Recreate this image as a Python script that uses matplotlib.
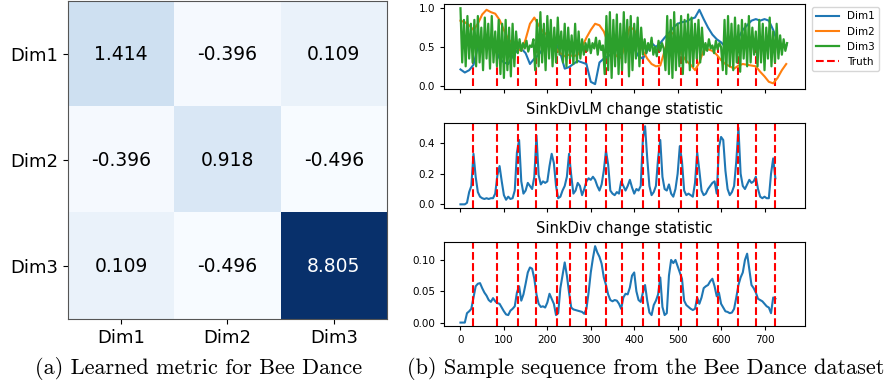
"""Learned metric heatmap and Bee Dance sample sequence with change statistics."""

import numpy as np
import matplotlib
matplotlib.use('Agg')
import matplotlib.pyplot as plt

# --- data -------------------------------------------------------------------
dims = ['Dim1', 'Dim2', 'Dim3']
metric = [[1.414, -0.396, 0.109],
          [-0.396, 0.918, -0.496],
          [0.109, -0.496, 8.805]]

truth = [29, 84, 133, 175, 223, 252, 289, 335, 372, 421, 457, 507, 545, 593, 639, 681, 725]

# sequence sampled every 10 steps (Dim1, Dim2) and every 4 steps (Dim3)
dim1 = [0.21, 0.17, 0.20, 0.27, 0.50, 0.55, 0.57, 0.56, 0.50, 0.35,
        0.30, 0.28, 0.38, 0.45, 0.48, 0.42, 0.28, 0.35, 0.40, 0.48,
        0.55, 0.58, 0.55, 0.42, 0.22, 0.24, 0.28, 0.32, 0.30, 0.28,
        0.05, 0.02, 0.30, 0.35, 0.38, 0.42, 0.47, 0.52, 0.55, 0.53,
        0.48, 0.38, 0.35, 0.45, 0.55, 0.50, 0.55, 0.62, 0.68, 0.75,
        0.80, 0.82, 0.83, 0.86, 0.88, 0.98, 0.86, 0.75, 0.66, 0.60,
        0.56, 0.50, 0.47, 0.55, 0.62, 0.72, 0.78, 0.84, 0.86, 0.84,
        0.86, 0.84, 0.72, 0.56, 0.50, 0.52]
dim2 = [0.84, 0.82, 0.78, 0.72, 0.80, 0.92, 0.98, 0.95, 0.93, 0.85,
        0.72, 0.60, 0.55, 0.48, 0.45, 0.60, 0.80, 0.88, 0.78, 0.70,
        0.65, 0.55, 0.48, 0.42, 0.38, 0.40, 0.38, 0.40, 0.50, 0.62,
        0.72, 0.80, 0.78, 0.70, 0.55, 0.45, 0.38, 0.36, 0.55, 0.76,
        0.72, 0.60, 0.45, 0.35, 0.28, 0.25, 0.26, 0.45, 0.66, 0.68,
        0.55, 0.40, 0.32, 0.27, 0.20, 0.30, 0.46, 0.47, 0.45, 0.40,
        0.33, 0.28, 0.25, 0.22, 0.26, 0.28, 0.27, 0.26, 0.25, 0.18,
        0.12, 0.05, 0.03, 0.10, 0.20, 0.28]
dim3 = [1.0, 0.3, 0.85, 0.25, 0.9, 0.35, 0.8, 0.3,
        0.85, 0.25, 0.9, 0.3, 0.75, 0.2, 0.88, 0.35, 0.8, 0.22, 0.9, 0.3, 0.7, 0.25, 0.85,
        0.15, 0.8, 0.1, 0.85, 0.2, 0.75, 0.12, 0.8, 0.25, 0.7,
        0.42, 0.6, 0.45, 0.55, 0.48, 0.58, 0.44, 0.52, 0.5, 0.6,
        0.2, 0.85, 0.25, 0.95, 0.3, 0.8, 0.2, 0.9, 0.35, 0.85, 0.25, 0.75, 0.3, 0.88, 0.4,
        0.7, 0.3, 0.8, 0.25, 0.75, 0.35, 0.65, 0.28, 0.8, 0.3, 0.7, 0.35, 0.6, 0.4, 0.55,
        0.45, 0.6, 0.42, 0.55, 0.48, 0.62, 0.4, 0.58, 0.46, 0.52,
        0.15, 0.9, 0.2, 0.95, 0.1, 0.85, 0.25, 0.92, 0.15, 0.8, 0.2, 0.95, 0.3, 0.85,
        0.12, 0.9, 0.2, 0.8, 0.35, 0.88, 0.25, 0.75, 0.4,
        0.6, 0.42, 0.55, 0.45, 0.62, 0.4, 0.5, 0.38, 0.58, 0.45, 0.55, 0.48,
        0.2, 0.9, 0.15, 0.85, 0.1, 0.95, 0.2, 0.8, 0.25, 0.9, 0.15, 0.85, 0.3, 0.92,
        0.2, 0.88, 0.25, 0.8, 0.35, 0.85, 0.3, 0.75, 0.4,
        0.55, 0.45, 0.6, 0.48, 0.52, 0.42, 0.58, 0.47, 0.55, 0.5,
        0.2, 0.85, 0.15, 0.9, 0.25, 0.8, 0.2, 0.88, 0.3, 0.78,
        0.18, 0.85, 0.35, 0.8, 0.25, 0.9, 0.3, 0.75, 0.4, 0.7,
        0.25, 0.85, 0.3, 0.8, 0.2, 0.75, 0.35, 0.88, 0.25,
        0.7, 0.3, 0.8, 0.35, 0.65, 0.4, 0.6, 0.45, 0.55]

# change statistics sampled every 5 steps
sinkdiv_lm = [0.0, 0.0, 0.0, 0.01, 0.08, 0.12, 0.33, 0.18, 0.08, 0.05,
              0.04, 0.035, 0.04, 0.035, 0.04, 0.04, 0.07, 0.19, 0.25, 0.15,
              0.06, 0.03, 0.05, 0.035, 0.04, 0.09, 0.34, 0.42, 0.15, 0.07,
              0.09, 0.14, 0.12, 0.10, 0.18, 0.45, 0.19, 0.13, 0.15, 0.14,
              0.15, 0.25, 0.33, 0.27, 0.12, 0.04, 0.05, 0.09, 0.12, 0.18,
              0.33, 0.19, 0.07, 0.09, 0.14, 0.12, 0.06, 0.10, 0.15, 0.17,
              0.16, 0.18, 0.16, 0.12, 0.09, 0.13, 0.22, 0.35, 0.26, 0.09,
              0.07, 0.06, 0.08, 0.07, 0.15, 0.12, 0.09, 0.12, 0.16, 0.11,
              0.07, 0.10, 0.09, 0.12, 0.43, 0.51, 0.30, 0.12, 0.06, 0.08,
              0.12, 0.30, 0.42, 0.18, 0.10, 0.09, 0.13, 0.07, 0.05, 0.10,
              0.20, 0.38, 0.28, 0.09, 0.06, 0.07, 0.06, 0.05, 0.14, 0.34,
              0.22, 0.09, 0.06, 0.07, 0.10, 0.12, 0.14, 0.15, 0.07, 0.37,
              0.44, 0.42, 0.22, 0.10, 0.06, 0.08, 0.12, 0.28, 0.50, 0.20,
              0.12, 0.10, 0.13, 0.16, 0.14, 0.15, 0.18, 0.10, 0.05, 0.04,
              0.05, 0.04, 0.04, 0.20, 0.30, 0.17]
sinkdiv = [0.0, 0.0, 0.0, 0.015, 0.018, 0.022, 0.04, 0.058, 0.062, 0.063,
           0.055, 0.048, 0.043, 0.036, 0.033, 0.039, 0.034, 0.031, 0.030, 0.024,
           0.018, 0.013, 0.012, 0.019, 0.022, 0.026, 0.048, 0.058, 0.035, 0.045,
           0.062, 0.080, 0.088, 0.086, 0.070, 0.045, 0.030, 0.025, 0.026, 0.024,
           0.032, 0.046, 0.038, 0.030, 0.012, 0.015, 0.055, 0.075, 0.096, 0.075,
           0.048, 0.024, 0.021, 0.020, 0.019, 0.018, 0.017, 0.014, 0.022, 0.048,
           0.080, 0.103, 0.122, 0.112, 0.105, 0.094, 0.072, 0.060, 0.045, 0.036,
           0.034, 0.036, 0.035, 0.030, 0.022, 0.040, 0.046, 0.045, 0.056, 0.075,
           0.080, 0.050, 0.036, 0.033, 0.048, 0.060, 0.035, 0.016, 0.012, 0.028,
           0.035, 0.045, 0.072, 0.025, 0.012, 0.015, 0.075, 0.100, 0.095, 0.100,
           0.090, 0.080, 0.070, 0.035, 0.028, 0.025, 0.022, 0.020, 0.022, 0.040,
           0.030, 0.040, 0.055, 0.058, 0.060, 0.066, 0.070, 0.058, 0.042, 0.048,
           0.030, 0.024, 0.018, 0.017, 0.015, 0.016, 0.022, 0.040, 0.060, 0.072,
           0.080, 0.100, 0.110, 0.085, 0.060, 0.055, 0.048, 0.038, 0.036, 0.034,
           0.030, 0.026, 0.024, 0.015, 0.040, 0.038]

# --- figure -----------------------------------------------------------------
fig = plt.figure(figsize=(8.89, 3.85), dpi=100)

# (a) heatmap
ax = fig.add_axes([0.0765, 0.1714, 0.3588, 0.826])
ax.imshow(metric, cmap='Blues', aspect='auto')
for i in range(3):
    for j in range(3):
        val = metric[i][j]
        ax.text(j, i, '%.3f' % val, ha='center', va='center', fontsize=13.5,
                color='white' if val > 4 else 'black')
ax.set_xticks(range(3))
ax.set_yticks(range(3))
ax.set_xticklabels(dims, fontsize=13)
ax.set_yticklabels(dims, fontsize=13)
for s in ax.spines.values():
    s.set_color('#555555')

# (b) sequence + statistics
left, width = 0.4994, 0.406
ax1 = fig.add_axes([left, 0.7688, width, 0.2208])
ax2 = fig.add_axes([left, 0.4605, width, 0.2208], sharex=ax1)
ax3 = fig.add_axes([left, 0.154, width, 0.218], sharex=ax1)

t10 = np.arange(len(dim1)) * 10
t4 = np.arange(len(dim3)) * 4
t5 = np.arange(len(sinkdiv_lm)) * 5

ax1.plot(t10, dim1, lw=1.5, label='Dim1')
ax1.plot(t10, dim2, lw=1.5, label='Dim2')
ax1.plot(t4, dim3, lw=1.6, label='Dim3')
ax1.vlines(truth, 0, 0.5, colors='r', linestyles='--', lw=1.5, zorder=1.5, label='Truth')
ax1.set_ylim(-0.043, 1.055)
ax1.set_yticks([0.0, 0.5, 1.0])
ax1.legend(loc='upper left', bbox_to_anchor=(1.01, 1.0), fontsize=7.5,
           handlelength=2.2, borderaxespad=0.3)

ax2.plot(t5, sinkdiv_lm, lw=1.5)
for cp in truth:
    ax2.axvline(cp, color='r', ls='--', lw=1.5)
ax2.set_ylim(-0.022, 0.533)
ax2.set_yticks([0.0, 0.2, 0.4])
ax2.set_title('SinkDivLM change statistic', fontsize=10.5, pad=6)

ax3.plot(t5, sinkdiv, lw=1.5)
for cp in truth:
    ax3.axvline(cp, color='r', ls='--', lw=1.5)
ax3.set_ylim(-0.005, 0.129)
ax3.set_yticks([0.0, 0.05, 0.10])
ax3.set_title('SinkDiv change statistic', fontsize=10.5, pad=6)

ax1.set_xlim(-38, 793)
ax1.set_xticks(range(0, 800, 100))
for a in (ax1, ax2):
    plt.setp(a.get_xticklabels(), visible=False)
for a in (ax1, ax2, ax3):
    a.tick_params(labelsize=7.5, length=3)

fig.text(0.2233, 0.044, '(a) Learned metric for Bee Dance', ha='center', va='center',
         family='cmr10', fontsize=16)
fig.text(0.726, 0.044, '(b) Sample sequence from the Bee Dance dataset', ha='center',
         va='center', family='cmr10', fontsize=16)

fig.savefig('out.png', dpi=100)
